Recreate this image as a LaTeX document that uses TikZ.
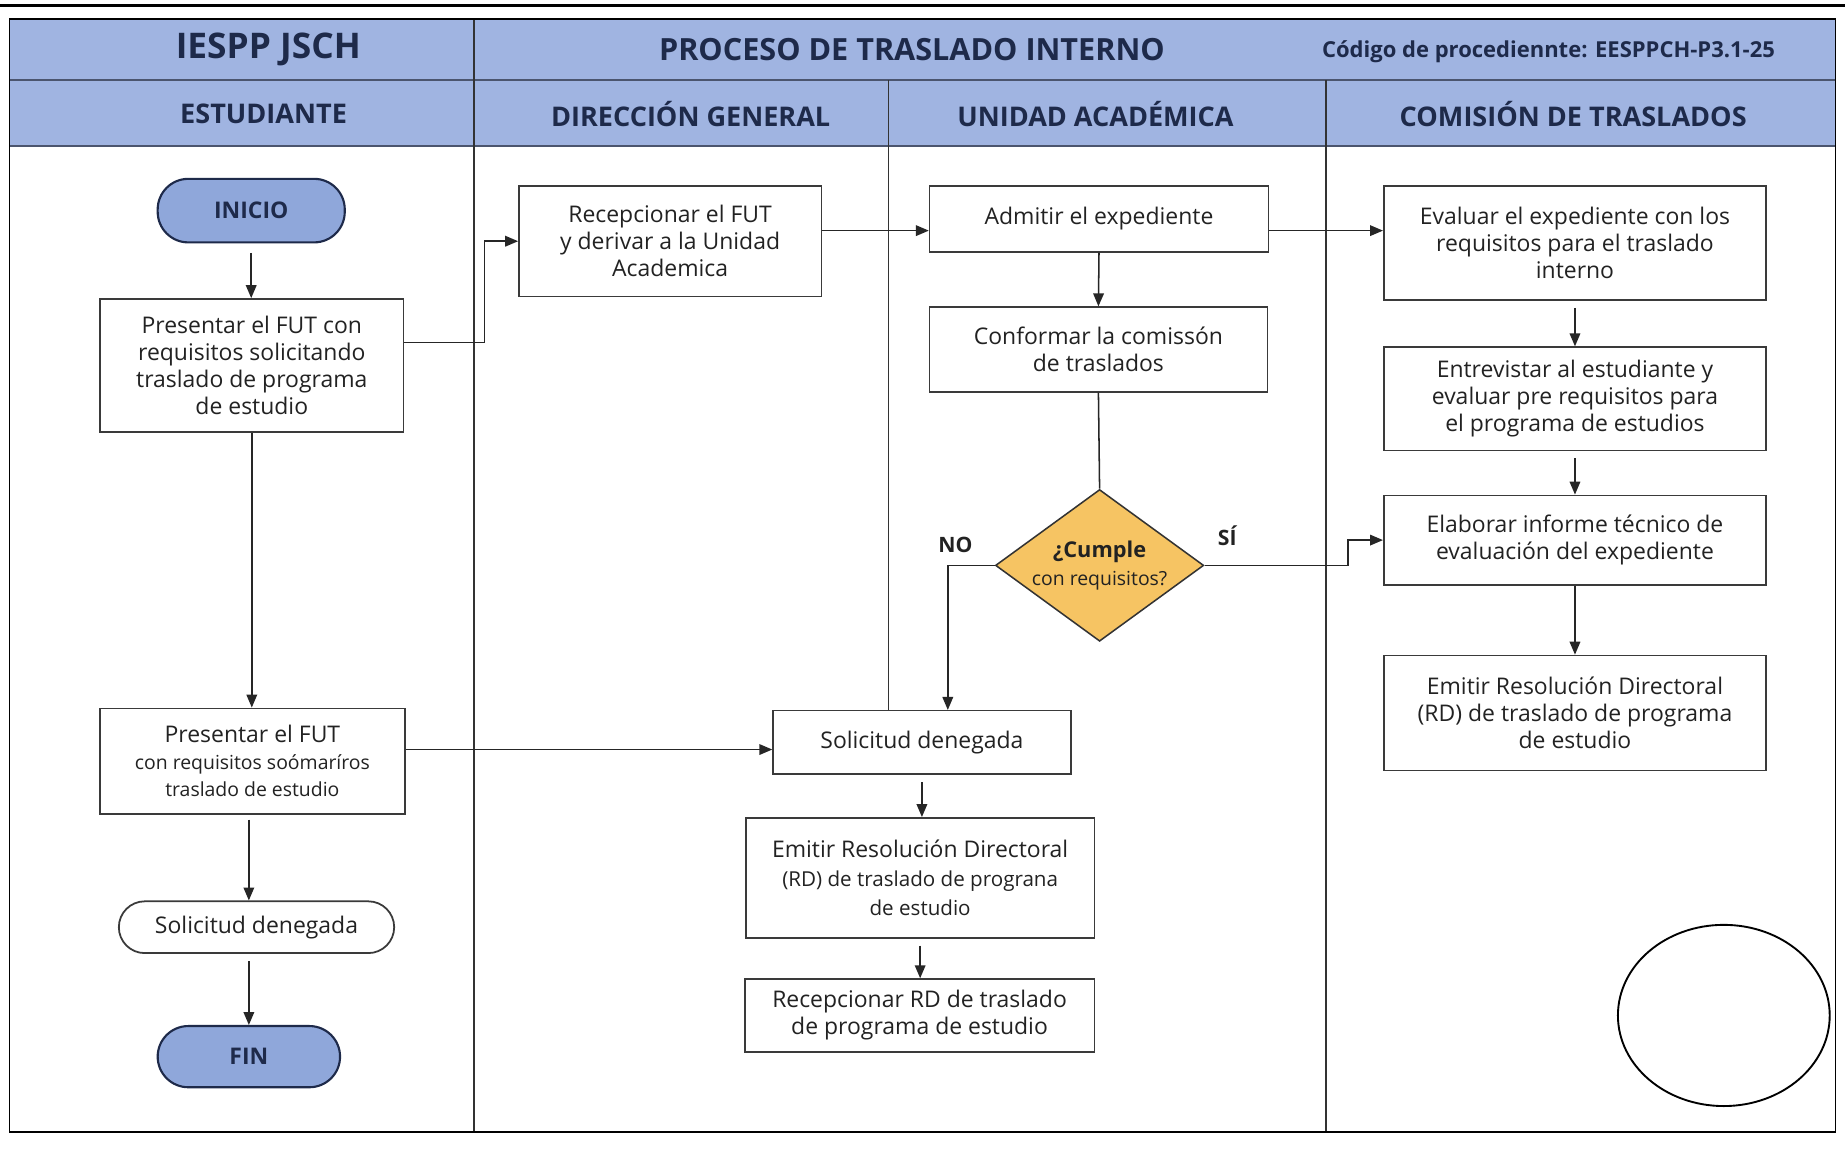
\documentclass[tikz,border=0pt]{standalone}
\usepackage{fontspec}
\setmainfont{Open Sans}
\usetikzlibrary{shapes.geometric,arrows.meta,calc}
\definecolor{hdrfill}{HTML}{A0B4E1}
\definecolor{termfill}{HTML}{8FA7DA}
\definecolor{navy}{HTML}{1E2A4A}
\definecolor{boxline}{HTML}{3A3A3A}
\definecolor{decfill}{HTML}{F6C463}
\definecolor{txt}{HTML}{222222}
\begin{document}
\begin{tikzpicture}[x=1pt,y=-1pt,
  fbox/.style={draw=boxline, line width=1.3pt, fill=white, align=center, inner sep=0pt, text=txt, font=\fontsize{19.5}{23}\selectfont},
  term/.style={draw=navy, line width=1.8pt, fill=termfill, rounded corners=26pt, inner sep=0pt, font=\bfseries\fontsize{19.5}{23}\selectfont, text=navy},
  arr/.style={draw=black!85, line width=1.3pt, -{Triangle[length=11pt,width=9pt]}},
  ln/.style={draw=black!85, line width=1.3pt},
  lane/.style={draw=black!80, line width=1.2pt},
  hdrtxt/.style={text=navy, font=\bfseries\fontsize{23}{26}\selectfont},
  lbl/.style={text=txt, font=\bfseries\fontsize{18}{20}\selectfont},
]
\useasboundingbox (0,0) rectangle (1568,976);
\fill[white] (0,0) rectangle (1568,976);
% header
\fill[hdrfill] (8,16) rectangle (1560,124);
\draw[line width=1.5pt, navy!80] (8,68) -- (1560,68);
\draw[line width=1.5pt, navy!80] (8,124) -- (1560,124);
% lanes
\draw[lane] (403,16) -- (403,962);
\draw[lane] (755,68) -- (755,604);
\draw[lane] (1127,68) -- (1127,962);
% frame
\draw[line width=1.5pt] (8,16) rectangle (1560,962);
\draw[line width=2.5pt] (0,5) -- (1568,5);
\draw[line width=2pt] (8,962) -- (1560,962);

% header texts
\node[hdrtxt, font=\bfseries\fontsize{30}{33}\selectfont] (t1) at (228,42) {IESPP JSCH};
\node[hdrtxt, font=\bfseries\fontsize{26}{29}\selectfont] (t2) at (775,42) {PROCESO DE TRASLADO INTERNO};
\node[hdrtxt, font=\bfseries\fontsize{18.7}{21}\selectfont] (t3) at (1316,44) {Código de procediennte: EESPPCH-P3.1-25};
\node[hdrtxt] (h1) at (224,97) {ESTUDIANTE};
\node[hdrtxt] (h2) at (587,97) {DIRECCIÓN GENERAL};
\node[hdrtxt] (h3) at (931,97) {UNIDAD ACADÉMICA};
\node[hdrtxt] (h4) at (1337,97) {COMISIÓN DE TRASLADOS};

% nodes
\node[term, minimum width=159pt, minimum height=54pt] (inicio) at (213.5,179) {INICIO};
\node[fbox, minimum width=258pt, minimum height=113pt] (p1) at (214,310.5) {Presentar el FUT con\\requisitos solicitando\\traslado de programa\\de estudio};
\node[fbox, minimum width=257pt, minimum height=94pt] (r1) at (569.5,205) {Recepcionar el FUT\\y derivar a la Unidad\\Academica};
\node[fbox, minimum width=288pt, minimum height=56pt] (a1) at (934,186) {Admitir el expediente};
\node[fbox, minimum width=287pt, minimum height=72pt] (c1) at (933.5,297) {Conformar la comissón\\de traslados};
\node[diamond, shape aspect=1.37, draw=black!80, line width=1.3pt, fill=decfill, minimum width=177pt, minimum height=129pt, inner sep=0pt, align=center, text=txt, font=\fontsize{17}{24}\selectfont] (d) at (934.5,480.5) {{\bfseries\fontsize{18.5}{24}\selectfont ¿Cumple}\\{\fontsize{16.5}{24}\selectfont con requisitos?}};
\node[lbl] (no) at (812,463) {NO};
\node[lbl] (si) at (1043,455) {SÍ};
\node[fbox, minimum width=325pt, minimum height=97pt] (e1) at (1338.5,206.5) {Evaluar el expediente con los\\requisitos para el traslado\\interno};
\node[fbox, minimum width=325pt, minimum height=88pt] (e2) at (1338.5,339) {Entrevistar al estudiante y\\evaluar pre requisitos para\\el programa de estudios};
\node[fbox, minimum width=325pt, minimum height=76pt] (e3) at (1338.5,459) {Elaborar informe técnico de\\evaluación del expediente};
\node[fbox, minimum width=325pt, minimum height=98pt] (e4) at (1338.5,606) {Emitir Resolución Directoral\\(RD) de traslado de programa\\de estudio};
\node[fbox, minimum width=259pt, minimum height=90pt] (p2) at (214.5,647) {Presentar el FUT\\{\fontsize{16.5}{21}\selectfont con requisitos soómaríros}\\{\fontsize{16.5}{21}\selectfont traslado de estudio}};
\node[fbox, minimum width=253pt, minimum height=54pt] (sd1) at (783.5,631) {Solicitud denegada};
\node[fbox, minimum width=296pt, minimum height=102pt, font=\fontsize{19.5}{24.5}\selectfont] (er) at (782,746) {Emitir Resolución Directoral\\{\fontsize{17.5}{22}\selectfont (RD) de traslado de prograna}\\{\fontsize{17.5}{22}\selectfont de estudio}};
\node[fbox, minimum width=297pt, minimum height=62pt] (rr) at (781.5,863) {Recepcionar RD de traslado\\de programa de estudio};
\node[fbox, rounded corners=22pt, minimum width=234pt, minimum height=44pt, line width=1.5pt] (sd2) at (218,788) {Solicitud denegada};
\node[term, minimum width=155pt, minimum height=52pt] (fin) at (211.5,898) {FIN};
\node[draw=black, line width=1.6pt, ellipse, minimum width=180pt, minimum height=154pt, inner sep=0pt] (circ) at (1465,863) {};

% connectors
\draw[arr, shorten <=8pt] (inicio.south) -- (inicio.south |- p1.north);
\coordinate (p1o) at ([yshift=19.5pt]p1.east);
\draw[arr] (p1o) -- ++(68,0) |- (r1.west);
\coordinate (r1o) at ([yshift=9pt]r1.east);
\draw[arr] (r1o) -- (r1o -| a1.west);
\coordinate (a1o) at ([yshift=-10pt]a1.east);
\draw[arr] (a1o) -- (a1o -| e1.west);
\draw[arr] (a1.south) -- (c1.north);
\draw[ln] (c1.south) -- (d.north);
\draw[arr] (d.east) -- ++(122,0) |- (e3.west);
\draw[arr] (d.west) -| ([xshift=22pt]sd1.north);
\draw[arr, shorten <=6pt] (e1.south) -- (e2.north);
\draw[arr, shorten <=6pt] (e2.south) -- (e3.north);
\draw[arr] (e3.south) -- (e4.north);
\draw[arr] (p1.south) -- (p1.south |- p2.north);
\coordinate (p2o) at ([yshift=10pt]p2.east);
\draw[arr] (p2o) -- (p2o -| sd1.west);
\draw[arr, shorten <=6pt] (sd1.south) -- (sd1.south |- er.north);
\draw[arr, shorten <=6pt] (er.south) -- (er.south |- rr.north);
\draw[arr, shorten <=4pt] (p2.south -| fin.north) -- (fin.north |- sd2.north);
\draw[arr, shorten <=6pt] (fin.north |- sd2.south) -- (fin.north);
\end{tikzpicture}
\end{document}
